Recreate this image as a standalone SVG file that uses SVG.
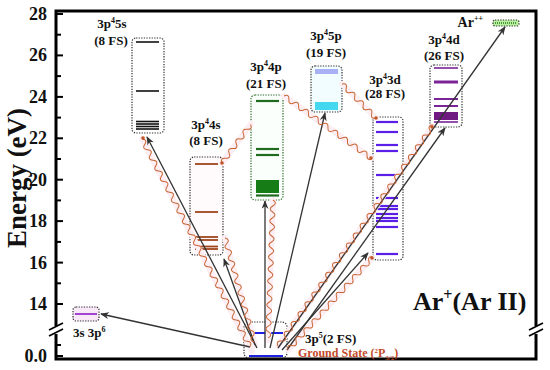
<svg xmlns="http://www.w3.org/2000/svg" width="550" height="370" viewBox="0 0 550 370">
<style>
text{font-family:"Liberation Serif","Times New Roman",serif;font-weight:bold;fill:#111}
.tick{font-size:18px;text-anchor:end}
.lbl{font-size:13px;text-anchor:middle}
.box{fill:#fff;stroke:#333;stroke-width:1.2;stroke-dasharray:1.3 1.3}
.ax{stroke:#000;stroke-width:3;fill:none}
.tk{stroke:#000;stroke-width:2}
.arr{stroke:#333;stroke-width:1.3;fill:none;marker-end:url(#ah)}
.wave{stroke:#c86432;stroke-width:1;fill:none}
.halo{stroke:#fdeef3;stroke-width:6;stroke-linecap:round}
.dot{fill:#c0562a}
</style>
<defs>
<marker id="ah" viewBox="0 0 10 8" refX="9" refY="4" markerWidth="9" markerHeight="7" orient="auto" markerUnits="userSpaceOnUse"><path d="M0,0 L10,4 L0,8 L3,4 z" fill="#333"/></marker>
</defs>
<rect width="550" height="370" fill="#fff"/>

<g id="axes">
<path class="ax" d="M56,11 H536 V359 H56 Z"/>
<g class="tk">
<line x1="57" y1="14" x2="63" y2="14"/><line x1="57" y1="34.7" x2="61" y2="34.7"/>
<line x1="57" y1="55.4" x2="63" y2="55.4"/><line x1="57" y1="76.1" x2="61" y2="76.1"/>
<line x1="57" y1="96.9" x2="63" y2="96.9"/><line x1="57" y1="117.6" x2="61" y2="117.6"/>
<line x1="57" y1="138.3" x2="63" y2="138.3"/><line x1="57" y1="159" x2="61" y2="159"/>
<line x1="57" y1="179.7" x2="63" y2="179.7"/><line x1="57" y1="200.4" x2="61" y2="200.4"/>
<line x1="57" y1="221.1" x2="63" y2="221.1"/><line x1="57" y1="241.9" x2="61" y2="241.9"/>
<line x1="57" y1="262.6" x2="63" y2="262.6"/><line x1="57" y1="283.3" x2="61" y2="283.3"/>
<line x1="57" y1="304" x2="63" y2="304"/><line x1="57" y1="345" x2="61" y2="345"/>
<line x1="57" y1="356" x2="63" y2="356"/>
</g>
<text class="tick" x="47" y="20">28</text>
<text class="tick" x="47" y="61">26</text>
<text class="tick" x="47" y="103">24</text>
<text class="tick" x="47" y="144">22</text>
<text class="tick" x="47" y="186">20</text>
<text class="tick" x="47" y="227">18</text>
<text class="tick" x="47" y="269">16</text>
<text class="tick" x="47" y="310">14</text>
<text class="tick" x="47" y="362">0.0</text>
<rect x="50" y="326" width="12" height="8" fill="#fff"/>
<rect x="530" y="326" width="12" height="8" fill="#fff"/>
<path d="M49,330 L63,323 M49,336 L63,329 M529,330 L543,323 M529,336 L543,329" stroke="#000" stroke-width="1.8"/>
<text x="26" y="178" font-size="27" text-anchor="middle" transform="rotate(-90 26 178)">Energy (eV)</text>
<text x="413" y="310" font-size="26">Ar<tspan font-size="16" dy="-10">+</tspan><tspan dy="10">(Ar II)</tspan></text>
</g>

<g id="n-3s3p6">
<rect x="73" y="307" width="26" height="14" rx="3" class="box" style="fill:#f8e8f8"/>
<line x1="75" y1="314" x2="97" y2="314" stroke="#9932cc" stroke-width="1.8"/>
<text x="73" y="337" font-size="13">3s 3p<tspan font-size="8" dy="-5">6</tspan></text>
</g>

<g id="n-3p45s">
<rect x="132" y="38" width="32" height="95" rx="4" class="box"/>
<g stroke="#111" stroke-width="1.6">
<line x1="136" y1="42" x2="159" y2="42"/>
<line x1="136" y1="91" x2="159" y2="91"/>
<line x1="136" y1="121.5" x2="159" y2="121.5"/>
<line x1="136" y1="124" x2="159" y2="124"/>
<line x1="136" y1="126.5" x2="159" y2="126.5"/>
<line x1="136" y1="129" x2="159" y2="129"/>
</g>
<text class="lbl" x="112" y="28">3p<tspan font-size="8" dy="-5">4</tspan><tspan dy="5">5s</tspan></text>
<text class="lbl" x="111" y="45">(8 FS)</text>
</g>

<g id="n-3p44s">
<rect x="190" y="157" width="33" height="98" rx="4" class="box" style="fill:#fffafb"/>
<g stroke="#a0441c" stroke-width="1.8">
<line x1="195" y1="164" x2="218" y2="164"/>
<line x1="195" y1="212" x2="218" y2="212"/>
<line x1="195" y1="237" x2="218" y2="237"/>
<line x1="195" y1="240" x2="218" y2="240"/>
<line x1="195" y1="246.5" x2="218" y2="246.5"/>
<line x1="195" y1="249" x2="218" y2="249"/>
</g>
<text class="lbl" x="206" y="129">3p<tspan font-size="8" dy="-5">4</tspan><tspan dy="5">4s</tspan></text>
<text class="lbl" x="206" y="145">(8 FS)</text>
</g>

<g id="n-3p44p">
<rect x="251" y="95" width="32" height="105" rx="4" class="box" style="stroke:#2a6a2a;fill:#fbfffb"/>
<g stroke="#1f6b1f" stroke-width="2.2">
<line x1="256" y1="101" x2="279" y2="101"/>
<line x1="256" y1="149" x2="279" y2="149"/>
<line x1="256" y1="155" x2="279" y2="155"/>
<line x1="256" y1="195.5" x2="279" y2="195.5"/>
</g>
<rect x="256" y="180" width="23" height="13" fill="#167d16"/>
<text class="lbl" x="266" y="71">3p<tspan font-size="8" dy="-5">4</tspan><tspan dy="5">4p</tspan></text>
<text class="lbl" x="266" y="88">(21 FS)</text>
</g>

<g id="n-3p45p">
<rect x="311" y="66" width="31" height="46" rx="4" class="box" style="fill:#f2fdff"/>
<rect x="315" y="69" width="23" height="5" fill="#a8b0f6"/>
<rect x="315" y="102" width="23" height="8" fill="#44d8f0"/>
<text class="lbl" x="326" y="40">3p<tspan font-size="8" dy="-5">4</tspan><tspan dy="5">5p</tspan></text>
<text class="lbl" x="326" y="57">(19 FS)</text>
</g>

<g id="n-3p43d">
<rect x="373" y="117" width="30" height="143" rx="4" class="box"/>
<g stroke="#5a1ee8" stroke-width="2.2">
<line x1="376" y1="122" x2="398" y2="122"/>
<line x1="376" y1="132" x2="398" y2="132"/>
<line x1="376" y1="145" x2="398" y2="145"/>
<line x1="376" y1="151" x2="398" y2="151"/>
<line x1="376" y1="175" x2="398" y2="175"/>
<line x1="376" y1="198" x2="398" y2="198"/>
<line x1="376" y1="206" x2="398" y2="206"/>
<line x1="376" y1="209" x2="398" y2="209"/>
<line x1="376" y1="214" x2="398" y2="214"/>
<line x1="376" y1="218" x2="398" y2="218"/>
<line x1="376" y1="221" x2="398" y2="221"/>
<line x1="376" y1="227" x2="398" y2="227"/>
<line x1="376" y1="254" x2="398" y2="254"/>
</g>
<text class="lbl" x="385" y="84">3p<tspan font-size="8" dy="-5">4</tspan><tspan dy="5">3d</tspan></text>
<text class="lbl" x="385" y="98">(28 FS)</text>
</g>

<g id="n-3p44d">
<rect x="430" y="65" width="32" height="62" rx="4" class="box"/>
<g stroke="#7a2496">
<line x1="434" y1="68" x2="458" y2="68" stroke-width="1.6"/>
<line x1="434" y1="82" x2="458" y2="82" stroke-width="3"/>
<line x1="434" y1="99" x2="458" y2="99" stroke-width="2"/>
<line x1="434" y1="106" x2="458" y2="106" stroke-width="2"/>
<line x1="434" y1="122" x2="458" y2="122" stroke-width="1.6"/>
</g>
<rect x="434" y="112" width="24" height="8" fill="#6e1a80"/>
<text class="lbl" x="444" y="44">3p<tspan font-size="8" dy="-5">4</tspan><tspan dy="5">4d</tspan></text>
<text class="lbl" x="444" y="60">(26 FS)</text>
</g>

<g id="n-arpp">
<rect x="493" y="20" width="26" height="6" rx="2" class="box" style="fill:#b8f0a0"/>
<line x1="495" y1="23" x2="517" y2="23" stroke="#4a9a3a" stroke-width="2" stroke-dasharray="1 1"/>
<text x="483" y="27" font-size="14" text-anchor="end">Ar<tspan font-size="8" dy="-6">++</tspan></text>
</g>

<g id="n-ground">
<rect x="244" y="322" width="43" height="36" rx="5" class="box" style="fill:none"/>
<line x1="249" y1="333" x2="283" y2="333" stroke="#2020e0" stroke-width="2"/>
<line x1="249" y1="356" x2="283" y2="356" stroke="#2020e0" stroke-width="2"/>
<text x="305" y="343" font-size="13">3p<tspan font-size="8" dy="-5">5</tspan><tspan dy="5">(2 FS)</tspan></text>
<text x="298" y="357" font-size="12" style="fill:#c24a28">Ground State (<tspan font-size="7" dy="-4">2</tspan><tspan dy="4">P</tspan><tspan font-size="7" dy="3">3/2</tspan><tspan dy="-3">)</tspan></text>
</g>

<g id="connectors">
<g class="halo">
<line x1="142" y1="139" x2="252" y2="351"/>
<line x1="222" y1="163" x2="251" y2="124"/>
<line x1="225" y1="238" x2="255" y2="345"/>
<line x1="273" y1="200" x2="268" y2="340"/>
<line x1="284" y1="96" x2="371" y2="158"/>
<line x1="342" y1="84" x2="376" y2="118"/>
<line x1="278" y1="346" x2="432" y2="127"/>
<line x1="288" y1="350" x2="372" y2="258"/>
</g>
<line class="arr" x1="250" y1="347" x2="101" y2="314"/>
<line class="arr" x1="257" y1="348" x2="147" y2="137"/>
<line class="arr" x1="255" y1="345" x2="224" y2="259"/>
<line class="arr" x1="265" y1="348" x2="265" y2="201"/>
<line class="arr" x1="270" y1="348" x2="325" y2="113"/>
<line class="arr" x1="282" y1="350" x2="368" y2="253"/>
<line class="arr" x1="287" y1="350" x2="445" y2="128"/>
<line class="arr" x1="278" y1="348" x2="505" y2="27"/>
<path class="wave" transform="translate(142,139) rotate(62.57)" d="M0,0 q3,-5 6,0 t6,0 6,0 6,0 6,0 6,0 6,0 6,0 6,0 6,0 6,0 6,0 6,0 6,0 6,0 6,0 6,0 6,0 6,0 6,0 6,0 6,0 6,0 6,0 6,0 6,0 6,0 6,0 6,0 6,0 6,0 6,0 6,0 6,0 6,0 6,0 6,0 6,0 6,0"/>
<path class="wave" transform="translate(222,163) rotate(-53.4)" d="M0,0 q3,-5 6,0 t6,0 6,0 6,0 6,0 6,0 6,0 6,0"/>
<path class="wave" transform="translate(225,238) rotate(74.3)" d="M0,0 q3,-5 6,0 t6,0 6,0 6,0 6,0 6,0 6,0 6,0 6,0 6,0 6,0 6,0 6,0 6,0 6,0 6,0 6,0 6,0"/>
<path class="wave" transform="translate(273,200) rotate(92)" d="M0,0 q3,-5 6,0 t6,0 6,0 6,0 6,0 6,0 6,0 6,0 6,0 6,0 6,0 6,0 6,0 6,0 6,0 6,0 6,0 6,0 6,0 6,0 6,0 6,0 6,0"/>
<path class="wave" transform="translate(284,96) rotate(35.5)" d="M0,0 q3,-5 6,0 t6,0 6,0 6,0 6,0 6,0 6,0 6,0 6,0 6,0 6,0 6,0 6,0 6,0 6,0 6,0 6,0 6,0"/>
<path class="wave" transform="translate(342,84) rotate(45)" d="M0,0 q3,-5 6,0 t6,0 6,0 6,0 6,0 6,0 6,0 6,0"/>
<path class="wave" transform="translate(278,346) rotate(-54.9)" d="M0,0 q3,-5 6,0 t6,0 6,0 6,0 6,0 6,0 6,0 6,0 6,0 6,0 6,0 6,0 6,0 6,0 6,0 6,0 6,0 6,0 6,0 6,0 6,0 6,0 6,0 6,0 6,0 6,0 6,0 6,0 6,0 6,0 6,0 6,0 6,0 6,0 6,0 6,0 6,0 6,0 6,0 6,0 6,0 6,0 6,0 6,0 6,0"/>
<path class="wave" transform="translate(288,350) rotate(-47.6)" d="M0,0 q3,-5 6,0 t6,0 6,0 6,0 6,0 6,0 6,0 6,0 6,0 6,0 6,0 6,0 6,0 6,0 6,0 6,0 6,0 6,0 6,0 6,0 6,0"/>
<circle class="dot" cx="222" cy="163" r="1.8"/>
<circle class="dot" cx="371" cy="158" r="1.8"/>
<circle class="dot" cx="376" cy="118" r="1.8"/>
<circle class="dot" cx="432" cy="127" r="1.8"/>
<circle class="dot" cx="372" cy="258" r="1.8"/>
<circle class="dot" cx="143" cy="138" r="1.8"/>
</g>
</svg>
